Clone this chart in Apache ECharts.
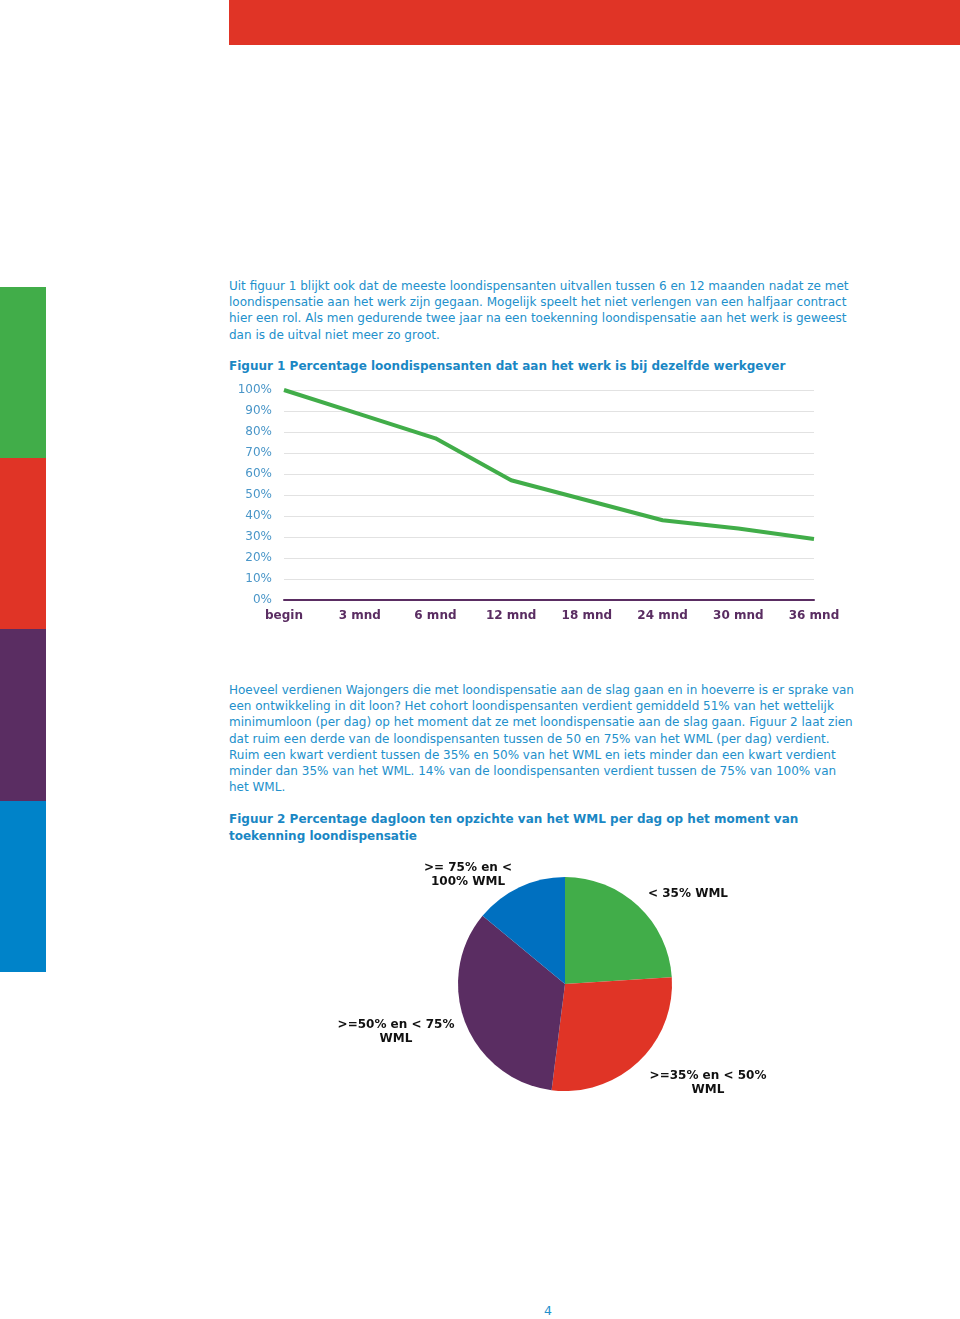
<!DOCTYPE html>
<html><head><meta charset="utf-8">
<script src="https://cdn.jsdelivr.net/npm/echarts@6/dist/echarts.min.js"></script>
<style>
html,body{margin:0;padding:0;background:#fff;}
body{width:960px;height:1319px;position:relative;overflow:hidden;font-family:"DejaVu Sans",Verdana,sans-serif;}
.abs{position:absolute;}
.p{position:absolute;left:229px;color:#2290cb;font-size:12px;line-height:16.2px;white-space:nowrap;}
.t{position:absolute;left:229px;color:#1a87c4;font-size:12px;font-weight:bold;line-height:16.5px;white-space:nowrap;}
</style></head>
<body>
<div class="abs" style="left:229px;top:0;width:731px;height:45px;background:#e03426;"></div>
<div class="abs" style="left:0;top:287px;width:46px;height:171px;background:#41ad49;"></div>
<div class="abs" style="left:0;top:458px;width:46px;height:171px;background:#e03426;"></div>
<div class="abs" style="left:0;top:629px;width:46px;height:172px;background:#5a2d62;"></div>
<div class="abs" style="left:0;top:801px;width:46px;height:171px;background:#0083c9;"></div>

<div class="p" style="top:278px;">Uit figuur 1 blijkt ook dat de meeste loondispensanten uitvallen tussen 6 en 12 maanden nadat ze met<br>loondispensatie aan het werk zijn gegaan. Mogelijk speelt het niet verlengen van een halfjaar contract<br>hier een rol. Als men gedurende twee jaar na een toekenning loondispensatie aan het werk is geweest<br>dan is de uitval niet meer zo groot.</div>

<div class="t" style="top:358px;">Figuur 1 Percentage loondispensanten dat aan het werk is bij dezelfde werkgever</div>
<div id="c1" class="abs" style="left:229px;top:375px;width:640px;height:260px;"></div>

<div class="p" style="top:682px;">Hoeveel verdienen Wajongers die met loondispensatie aan de slag gaan en in hoeverre is er sprake van<br>een ontwikkeling in dit loon? Het cohort loondispensanten verdient gemiddeld 51% van het wettelijk<br>minimumloon (per dag) op het moment dat ze met loondispensatie aan de slag gaan. Figuur 2 laat zien<br>dat ruim een derde van de loondispensanten tussen de 50 en 75% van het WML (per dag) verdient.<br>Ruim een kwart verdient tussen de 35% en 50% van het WML en iets minder dan een kwart verdient<br>minder dan 35% van het WML. 14% van de loondispensanten verdient tussen de 75% van 100% van<br>het WML.</div>

<div class="t" style="top:811px;">Figuur 2 Percentage dagloon ten opzichte van het WML per dag op het moment van<br>toekenning loondispensatie</div>
<div id="c2" class="abs" style="left:229px;top:850px;width:640px;height:270px;"></div>

<div class="abs" style="left:544px;top:1303px;color:#2290cb;font-size:12.5px;">4</div>

<script>
const lineCategories = ['begin','3 mnd','6 mnd','12 mnd','18 mnd','24 mnd','30 mnd','36 mnd'];
const lineValues = [100, 88.5, 77, 57, 47.5, 38, 34, 29];
const yTicks = [0,10,20,30,40,50,60,70,80,90,100];

const pieNames = ['< 35% WML', '>=35% en < 50%\nWML', '>=50% en < 75%\nWML', '>= 75% en <\n100% WML'];
const pieValues = [24, 28, 34, 14];
const pieColors = ['#41ad49', '#e03426', '#5a2d62', '#0070c0'];

const FONT = '"DejaVu Sans", Verdana, sans-serif';

const c1 = echarts.init(document.getElementById('c1'), null, {renderer:'canvas'});
c1.setOption({
  animation:false,
  grid:{left:55,right:55,top:15,bottom:35,containLabel:false},
  xAxis:{type:'category',data:lineCategories,boundaryGap:false,
    axisLine:{show:true,lineStyle:{color:'#5a2d62',width:2}},
    axisTick:{show:false},
    axisLabel:{color:'#5a2d62',fontWeight:'bold',fontSize:12,fontFamily:FONT,margin:10},
    splitLine:{show:false}},
  yAxis:{type:'value',min:0,max:100,interval:10,
    axisLine:{show:false},axisTick:{show:false},
    axisLabel:{color:'#4a96c8',fontSize:12,fontFamily:FONT,margin:12,formatter:v=>v+'%',padding:[2,0,0,0]},
    splitLine:{lineStyle:{color:'#e2e2e2',width:1}}},
  series:[{type:'line',data:lineValues,showSymbol:false,symbol:'none',
    lineStyle:{color:'#41ad49',width:4},z:5}]
});

const labelPos = [[459,44],[479,233],[167,182],[239,25]];
const c2 = echarts.init(document.getElementById('c2'), null, {renderer:'canvas'});
c2.setOption({
  animation:false,
  series:[{type:'pie',center:[336,134],radius:107,startAngle:90,clockwise:true,
    data:pieNames.map((n,i)=>({name:n,value:pieValues[i],itemStyle:{color:pieColors[i]}})),
    label:{show:true,position:'outside',color:'#111',fontWeight:'bold',fontSize:12,fontFamily:FONT,lineHeight:13.5,align:'center'},
    labelLine:{show:false},
    labelLayout:function(p){const q=labelPos[p.dataIndex];return {x:q[0],y:q[1],align:'center',verticalAlign:'middle'};},
    emphasis:{disabled:true}
  }]
});
</script>
</body></html>
